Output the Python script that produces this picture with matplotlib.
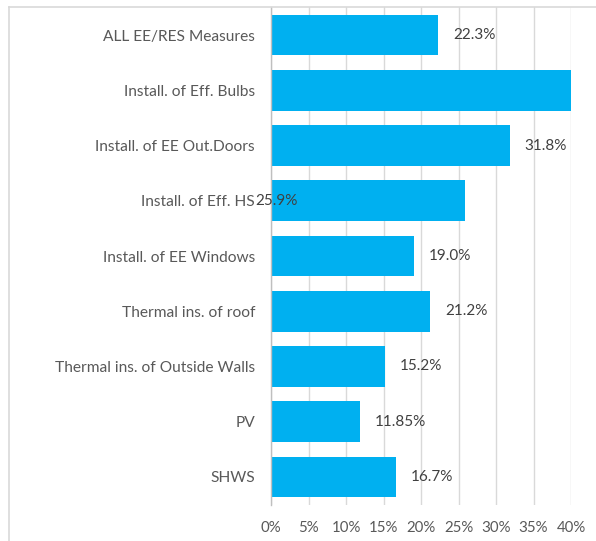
import matplotlib
matplotlib.use("Agg")
import matplotlib.pyplot as plt
from matplotlib.lines import Line2D
from matplotlib.ticker import FuncFormatter

plt.rcParams['font.family'] = ['Lato', 'DejaVu Sans']

categories = [
    "ALL EE/RES Measures",
    "Install. of Eff. Bulbs",
    "Install. of EE Out.Doors",
    "Install. of Eff. HS",
    "Install. of EE Windows",
    "Thermal ins. of roof",
    "Thermal ins. of Outside Walls",
    "PV",
    "SHWS",
]
values = [22.3, 40.5, 31.8, 25.9, 19.0, 21.2, 15.2, 11.85, 16.7]
value_labels = ["22.3%", None, "31.8%", "25.9%", "19.0%", "21.2%", "15.2%", "11.85%", "16.7%"]
x_ticks = [0, 5, 10, 15, 20, 25, 30, 35, 40]

W, H = 596, 541
fig = plt.figure(figsize=(W / 100, H / 100), dpi=100)
ax = fig.add_axes([271 / W, 1 - 504.6 / H, 300 / W, 497.2 / H])

bar_color = "#00B0F0"
ypos = list(range(len(categories)))
ax.barh(ypos, values, height=0.74, color=bar_color, zorder=3)

ax.set_ylim(len(categories) - 0.5, -0.5)
ax.set_xlim(0, 40)
ax.set_yticks(ypos)
ax.set_yticklabels(categories)
ax.set_xticks(x_ticks)
ax.xaxis.set_major_formatter(FuncFormatter(lambda v, p: f"{v:.0f}%"))

ax.tick_params(axis="y", length=0, pad=11.5, labelsize=11.2, labelcolor="#595959")
ax.tick_params(axis="x", length=0, pad=12, labelsize=10.8, labelcolor="#595959")

ax.grid(axis="x", color="#d9d9d9", linewidth=1.0, zorder=0)
for s in ["top", "right", "bottom"]:
    ax.spines[s].set_visible(False)
ax.spines["left"].set_color("#bfbfbf")
ax.spines["left"].set_linewidth(1.0)
ax.spines["left"].set_zorder(4)

for y, v, lab in zip(ypos, values, value_labels):
    if lab is None:
        continue
    if lab == "25.9%":
        # this label sits over the axis start, overlapping the category name
        ax.annotate(lab, xy=(0, y), xytext=(-16, 0), textcoords="offset pixels",
                    ha="left", va="center", fontsize=11, color="#404040",
                    annotation_clip=False, zorder=5)
    else:
        ax.annotate(lab, xy=(v, y), xytext=(15, 0), textcoords="offset pixels",
                    ha="left", va="center", fontsize=11, color="#404040",
                    annotation_clip=False, zorder=5)

# chart-area frame
fig.add_artist(Line2D([9 / W, 9 / W], [1 - 7 / H, 0], transform=fig.transFigure,
                      color="#d9d9d9", linewidth=1.2))
fig.add_artist(Line2D([9 / W, 1], [1 - 7 / H, 1 - 7 / H], transform=fig.transFigure,
                      color="#d9d9d9", linewidth=1.2))

fig.savefig("out.png", dpi=100, facecolor="white")
